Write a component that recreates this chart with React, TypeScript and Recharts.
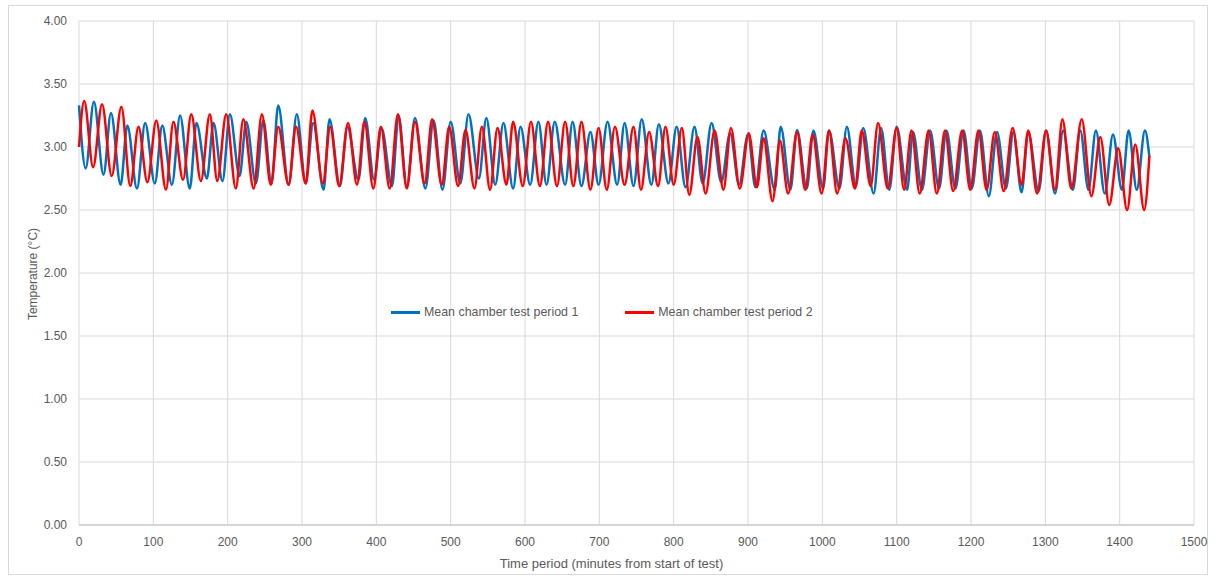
import React from "react";
import {
  LineChart,
  Line,
  XAxis,
  YAxis,
  CartesianGrid,
  Legend,
} from "recharts";

// peaks and troughs, minutes from start / °C
const period1Minutes = [
  0, 9, 20, 33, 43, 56, 65, 78, 89, 102, 112, 125, 136, 149, 158, 172, 181, 193,
  203, 216, 225, 238, 248, 259, 268, 282, 293, 305, 315, 329, 337, 351, 361, 376,
  385, 397, 407, 421, 430, 441, 452, 466, 477, 489, 500, 513, 524, 538, 548, 560,
  571, 584, 594, 607, 618, 629, 640, 654, 664, 676, 688, 699, 711, 724, 734, 746,
  757, 770, 780, 793, 804, 816, 828, 839, 851, 864, 876, 888, 900, 910, 921, 936,
  944, 957, 966, 979, 988, 1001, 1009, 1023, 1033, 1045, 1055, 1069, 1079, 1090,
  1100, 1114, 1122, 1134, 1145, 1157, 1167, 1179, 1190, 1201, 1212, 1224, 1235,
  1247, 1257, 1268, 1277, 1291, 1301, 1313, 1324, 1337, 1347, 1358, 1368, 1380,
  1391, 1403, 1412, 1423, 1434, 1440,
];
const period1Temps = [
  3.33, 2.83, 3.36, 2.78, 3.27, 2.7, 3.17, 2.67, 3.19, 2.71, 3.17, 2.7, 3.25, 2.67,
  3.19, 2.75, 3.19, 2.73, 3.26, 2.77, 3.2, 2.71, 3.21, 2.71, 3.33, 2.7, 3.26, 2.71,
  3.19, 2.66, 3.22, 2.69, 3.16, 2.74, 3.23, 2.74, 3.15, 2.69, 3.25, 2.69, 3.23,
  2.67, 3.21, 2.66, 3.2, 2.71, 3.26, 2.75, 3.23, 2.7, 3.19, 2.67, 3.16, 2.7, 3.2,
  2.7, 3.2, 2.7, 3.2, 2.69, 3.12, 2.7, 3.2, 2.7, 3.19, 2.69, 3.22, 2.7, 3.18, 2.71,
  3.16, 2.68, 3.16, 2.71, 3.19, 2.72, 3.11, 2.7, 3.1, 2.68, 3.13, 2.66, 3.16, 2.66,
  3.135, 2.67, 3.13, 2.67, 3.13, 2.67, 3.16, 2.69, 3.15, 2.63, 3.15, 2.66, 3.16,
  2.66, 3.12, 2.66, 3.13, 2.67, 3.13, 2.67, 3.13, 2.67, 3.13, 2.61, 3.12, 2.67,
  3.12, 2.64, 3.12, 2.65, 3.13, 2.63, 3.13, 2.66, 3.13, 2.66, 3.13, 2.63, 3.1,
  2.66, 3.13, 2.66, 3.13, 2.92,
];

const period2Minutes = [
  0, 7, 19, 31, 44, 57, 69, 80, 92, 104, 117, 127, 140, 151, 164, 176, 186, 198,
  211, 221, 235, 246, 258, 268, 282, 292, 305, 314, 328, 338, 350, 362, 374, 384,
  396, 406, 418, 429, 441, 452, 465, 475, 488, 498, 510, 520, 532, 542, 553, 563,
  575, 584, 597, 608, 620, 631, 643, 654, 665, 676, 688, 699, 710, 721, 734, 746,
  756, 767, 779, 789, 800, 811, 821, 832, 843, 855, 867, 877, 889, 901, 912, 921,
  933, 943, 954, 966, 977, 987, 999, 1009, 1020, 1031, 1044, 1053, 1065, 1075,
  1088, 1100, 1110, 1120, 1131, 1143, 1154, 1165, 1176, 1188, 1199, 1210, 1221,
  1232, 1244, 1256, 1268, 1277, 1289, 1301, 1313, 1323, 1335, 1349, 1362, 1374,
  1386, 1398, 1410, 1421, 1433, 1440,
];
const period2Temps = [
  3.0, 3.365, 2.84, 3.34, 2.77, 3.32, 2.69, 3.16, 2.72, 3.21, 2.66, 3.2, 2.74, 3.26,
  2.73, 3.26, 2.73, 3.26, 2.67, 3.22, 2.67, 3.26, 2.7, 3.16, 2.7, 3.16, 2.71, 3.29,
  2.71, 3.16, 2.69, 3.19, 2.7, 3.2, 2.67, 3.16, 2.67, 3.26, 2.67, 3.2, 2.71, 3.22,
  2.7, 3.16, 2.69, 3.135, 2.67, 3.16, 2.66, 3.15, 2.7, 3.2, 2.69, 3.2, 2.69, 3.2,
  2.69, 3.2, 2.69, 3.2, 2.66, 3.15, 2.66, 3.16, 2.7, 3.16, 2.66, 3.12, 2.69, 3.16,
  2.7, 3.15, 2.62, 3.08, 2.63, 3.13, 2.66, 3.15, 2.67, 3.11, 2.68, 3.07, 2.57, 3.05,
  2.63, 3.12, 2.66, 3.1, 2.63, 3.13, 2.63, 3.07, 2.67, 3.13, 2.69, 3.19, 2.67, 3.15,
  2.66, 3.13, 2.63, 3.13, 2.63, 3.13, 2.65, 3.13, 2.66, 3.13, 2.66, 3.12, 2.65,
  3.15, 2.7, 3.13, 2.63, 3.13, 2.66, 3.22, 2.67, 3.22, 2.61, 3.08, 2.54, 2.99, 2.5,
  3.02, 2.5, 2.93,
];

const xTicks = [0, 100, 200, 300, 400, 500, 600, 700, 800, 900, 1000, 1100, 1200, 1300, 1400, 1500];
const yTicks = [0, 0.5, 1, 1.5, 2, 2.5, 3, 3.5, 4];

const seriesNames = ["Mean chamber test period 1", "Mean chamber test period 2"];
const seriesColors = ["#0070C0", "#FF0000"];

const period1 = period1Minutes.map((m, i) => ({ minute: m, temp: period1Temps[i] }));
const period2 = period2Minutes.map((m, i) => ({ minute: m, temp: period2Temps[i] }));

const font = "'Liberation Sans', Arial, sans-serif";
const textColor = "#595959";
const gridColor = "#d9d9d9";

function LegendBox() {
  return (
    <div style={{ display: "flex", fontFamily: font, fontSize: 12.4, color: textColor }}>
      {seriesNames.map((name, i) => (
        <div key={name} style={{ display: "flex", alignItems: "center", marginRight: i === 0 ? 47 : 0 }}>
          <span style={{ display: "inline-block", width: 29, height: 3, background: seriesColors[i], marginRight: 4 }} />
          <span>{name}</span>
        </div>
      ))}
    </div>
  );
}

export default function App() {
  return (
    <div
      style={{
        position: "absolute",
        left: 8,
        top: 5,
        width: 1200,
        height: 570,
        border: "1px solid #d9d9d9",
        boxSizing: "border-box",
        background: "#fff",
      }}
    >
      <LineChart
        width={1200}
        height={570}
        margin={{ top: 16, right: 14, left: 21, bottom: 20 }}
        style={{ position: "absolute", left: -1, top: -1 }}
      >
        <CartesianGrid stroke={gridColor} strokeWidth={1} />
        <XAxis
          dataKey="minute"
          type="number"
          domain={[0, 1500]}
          ticks={xTicks}
          allowDuplicatedCategory={false}
          height={30}
          tickLine={false}
          tickSize={4}
          tickMargin={8}
          stroke="#bfbfbf"
          tick={{ fill: textColor, fontSize: 12, fontFamily: font }}
          label={{
            value: "Time period (minutes from start of test)",
            position: "bottom",
            offset: 4,
            dx: -25,
            fill: textColor,
            fontSize: 13,
            fontFamily: font,
          }}
        />
        <YAxis
          type="number"
          domain={[0, 4]}
          ticks={yTicks}
          width={50}
          tickLine={false}
          axisLine={false}
          tickSize={6}
          tickMargin={6}
          tickFormatter={(v: number) => v.toFixed(2)}
          tick={{ fill: textColor, fontSize: 12, fontFamily: font }}
          label={() => (
            <text
              x={26}
              y={269}
              transform="rotate(-90 26 269)"
              textAnchor="middle"
              dominantBaseline="middle"
              fill={textColor}
              fontSize={12}
              fontFamily={font}
            >
              Temperature (°C)
            </text>
          )}
        />
        <Legend
          verticalAlign="middle"
          align="center"
          layout="horizontal"
          content={() => <LegendBox />}
          wrapperStyle={{ position: "absolute", top: 300, left: 383, width: "auto" }}
        />
        <Line
          data={period1}
          dataKey="temp"
          name={seriesNames[0]}
          type="monotoneX"
          stroke={seriesColors[0]}
          strokeWidth={2.5}
          dot={false}
          isAnimationActive={false}
        />
        <Line
          data={period2}
          dataKey="temp"
          name={seriesNames[1]}
          type="monotoneX"
          stroke={seriesColors[1]}
          strokeWidth={2.5}
          dot={false}
          isAnimationActive={false}
        />
      </LineChart>
    </div>
  );
}
